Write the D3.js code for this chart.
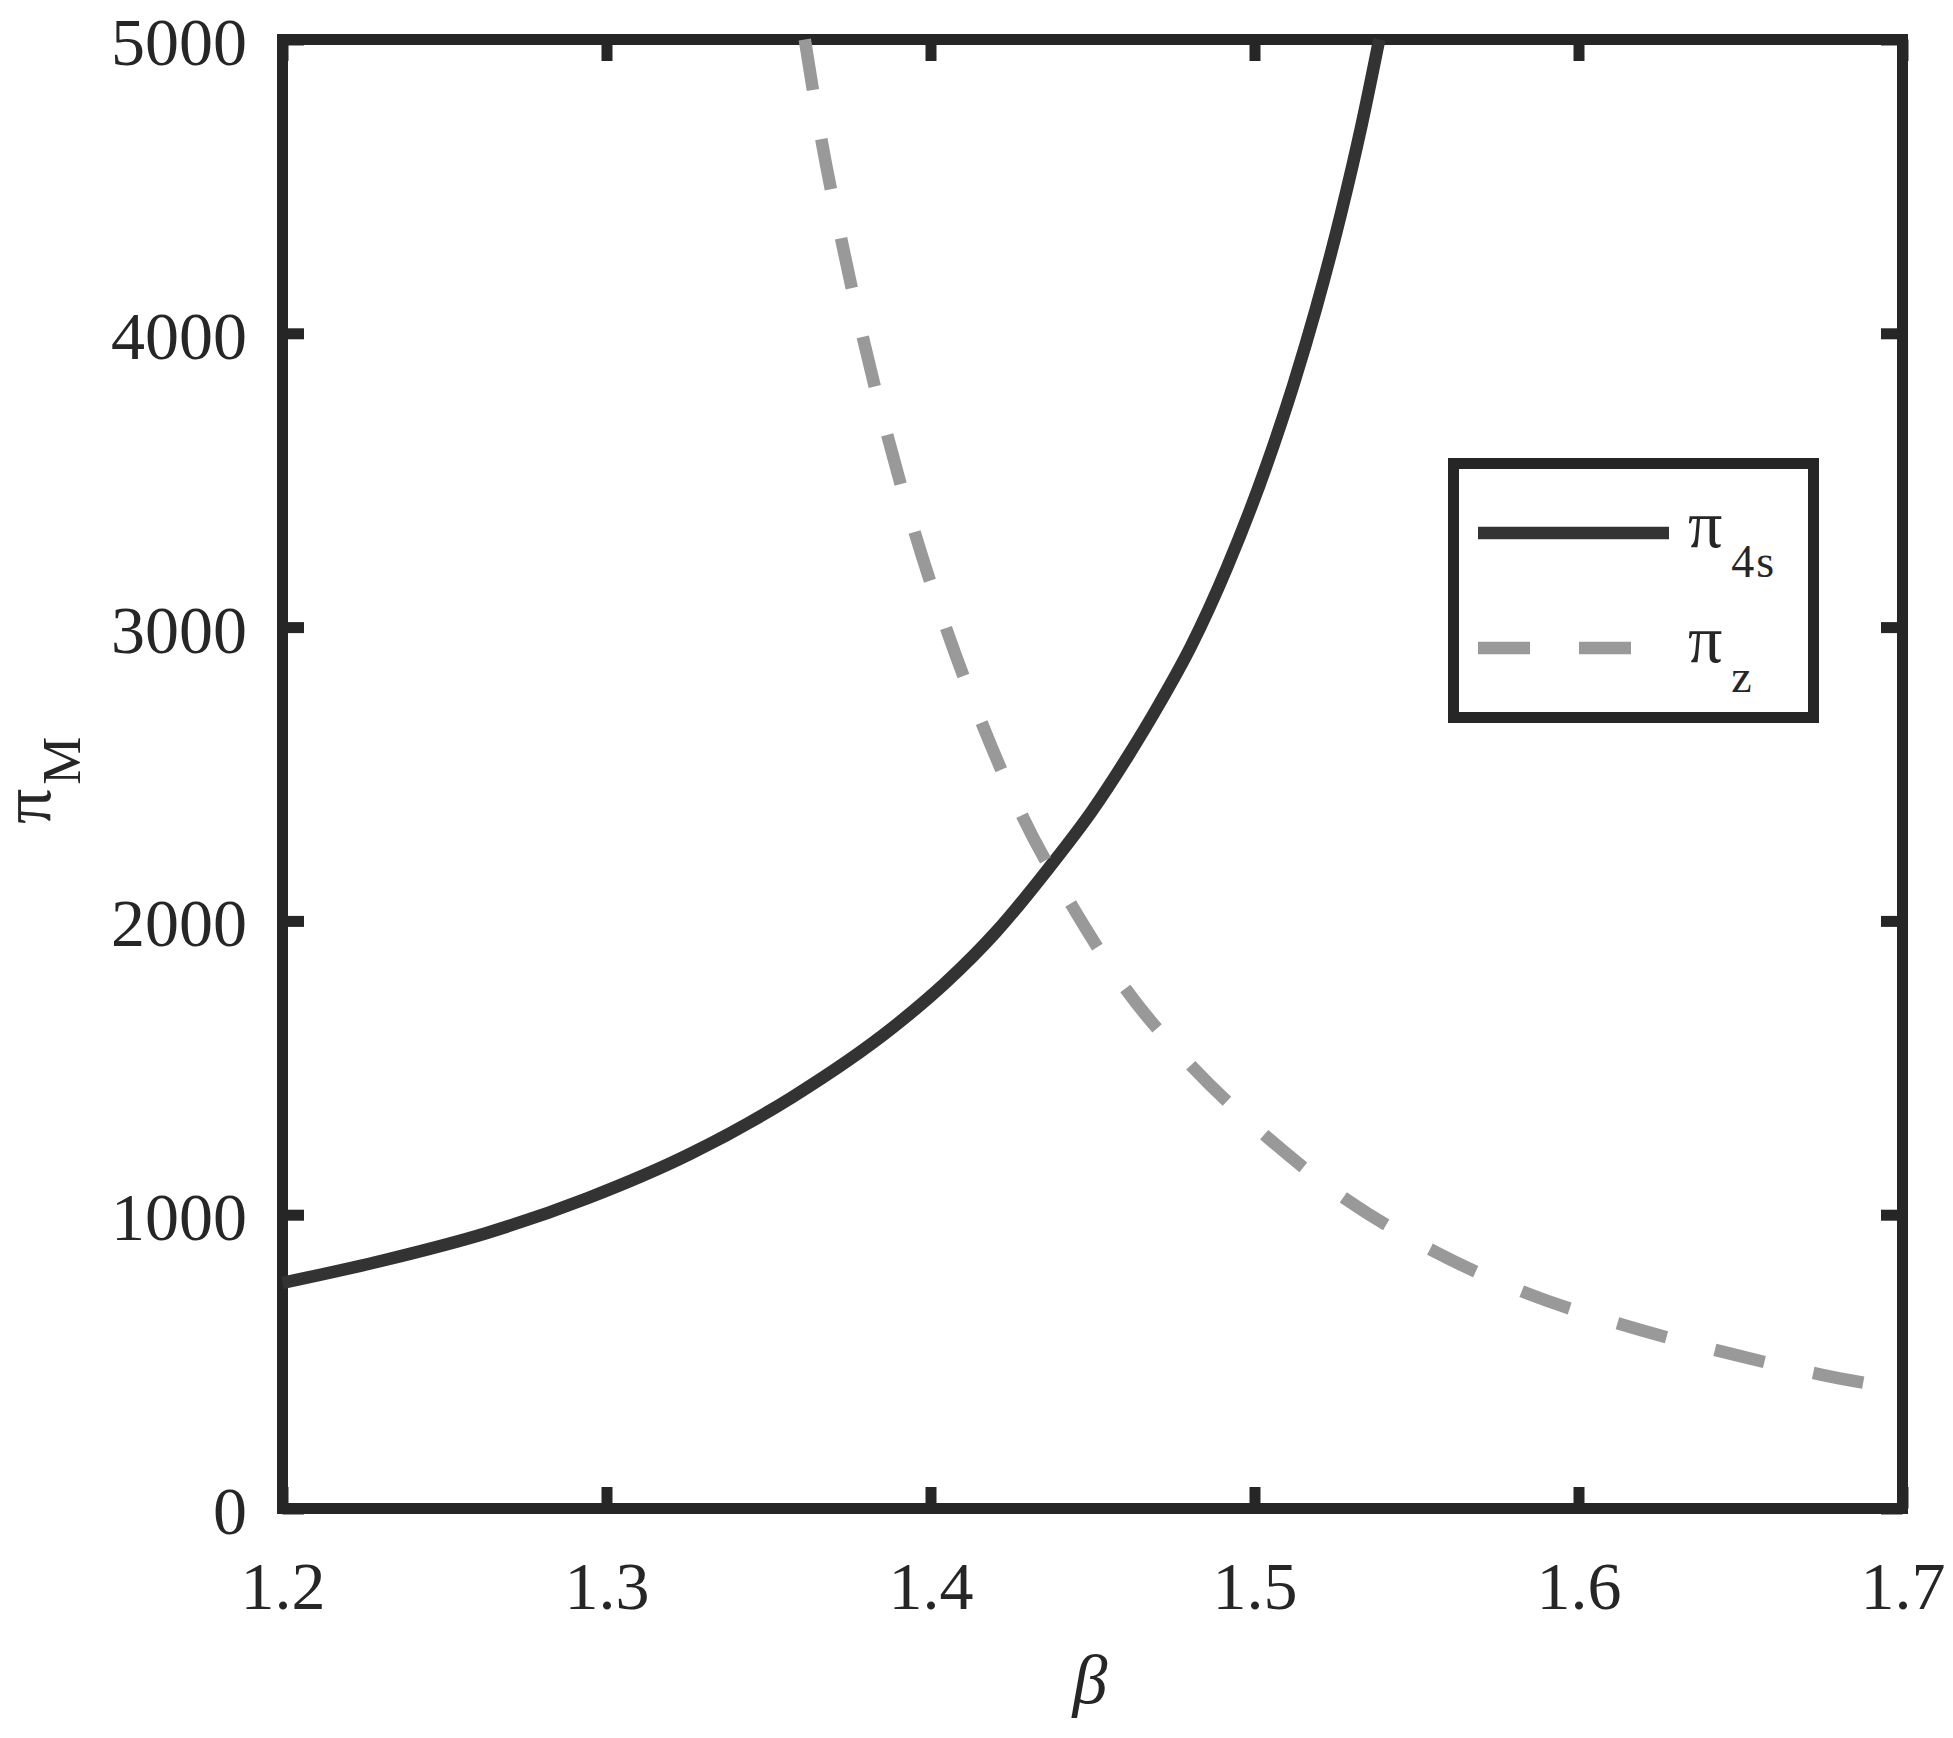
<!DOCTYPE html>
<html>
<head>
<meta charset="utf-8">
<script src="https://cdn.jsdelivr.net/npm/d3@7"></script>
<style>
  html, body { margin: 0; padding: 0; background: #ffffff; }
  svg { display: block; }
  text { font-family: "Liberation Serif", "Times New Roman", serif; fill: #262626; }
</style>
</head>
<body>
<svg id="chart" width="1953" height="1738"></svg>
<script>
// ---- data ----
const xDomain = [1.2, 1.7];
const yDomain = [0, 5000];
const xTicks = [1.2, 1.3, 1.4, 1.5, 1.6, 1.7];
const xTickLabels = ["1.2", "1.3", "1.4", "1.5", "1.6", "1.7"];
const yTicks = [0, 1000, 2000, 3000, 4000, 5000];
const yTickLabels = ["0", "1000", "2000", "3000", "4000", "5000"];

// pi_4s (solid)
const beta4s = [1.2000, 1.2313, 1.2628, 1.2943, 1.3258, 1.3573, 1.3887, 1.4045, 1.4202, 1.4365,
                1.4499, 1.4609, 1.4707, 1.4804, 1.4914, 1.5036, 1.5121, 1.5189, 1.5267, 1.5330, 1.5385];
const pi4s   = [768, 845, 937, 1057, 1207, 1400, 1640, 1788, 1962, 2180,
                2375, 2560, 2740, 2935, 3200, 3547, 3828, 4081, 4408, 4706, 5000];

// pi_z (dashed)
const betaZ = [1.3612, 1.3664, 1.3725, 1.3792, 1.3867, 1.3953, 1.4050, 1.4160, 1.4286, 1.4437,
               1.4606, 1.4810, 1.5041, 1.5290, 1.5557, 1.5847, 1.6144, 1.6446, 1.6748, 1.6900];
const piZ   = [5000, 4655, 4318, 3983, 3652, 3316, 2990, 2669, 2351, 2051,
               1763, 1501, 1262, 1047, 874, 730, 623, 533, 456, 424];

const seriesNames = ["4s", "z"];

// ---- layout ----
const svg = d3.select("#chart");
const L = 282.5, R = 1902.5, T = 39.5, B = 1508.5;
const frameColor = "#262626";
const x = d3.scaleLinear().domain(xDomain).range([L, R]);
const y = d3.scaleLinear().domain(yDomain).range([B, T]);
const tickLen = 21.5;
const fs = 68;

// axes (inward ticks on all four sides)
function styleAxis(g) {
  g.select(".domain").remove();
  g.selectAll(".tick line").attr("stroke", frameColor).attr("stroke-width", 11);
}
const gLeft = svg.append("g").attr("transform", `translate(${L},0)`)
  .call(d3.axisLeft(y).tickValues(yTicks).tickFormat((d, i) => yTickLabels[i])
        .tickSizeInner(-tickLen).tickSizeOuter(0).tickPadding(35.5));
styleAxis(gLeft);
gLeft.selectAll(".tick text").attr("font-size", fs).attr("dy", 25)
  .attr("fill", frameColor).style("font-family", '"Liberation Serif", serif');

const gRight = svg.append("g").attr("transform", `translate(${R},0)`)
  .call(d3.axisRight(y).tickValues(yTicks).tickFormat("").tickSizeInner(-tickLen).tickSizeOuter(0));
styleAxis(gRight);

const gBottom = svg.append("g").attr("transform", `translate(0,${B})`)
  .call(d3.axisBottom(x).tickValues(xTicks).tickFormat((d, i) => xTickLabels[i])
        .tickSizeInner(-tickLen).tickSizeOuter(0));
styleAxis(gBottom);
gBottom.selectAll(".tick text").attr("font-size", fs).attr("y", 100.5).attr("dy", 0)
  .attr("fill", frameColor).style("font-family", '"Liberation Serif", serif');

const gTop = svg.append("g").attr("transform", `translate(0,${T})`)
  .call(d3.axisTop(x).tickValues(xTicks).tickFormat("").tickSizeInner(-tickLen).tickSizeOuter(0));
styleAxis(gTop);

// frame
svg.append("rect").attr("x", L).attr("y", T).attr("width", R - L).attr("height", B - T)
  .attr("fill", "none").attr("stroke", frameColor).attr("stroke-width", 11);

// curves
const line = d3.line().x(d => x(d[0])).y(d => y(d[1])).curve(d3.curveMonotoneX);
svg.append("path").datum(beta4s.map((b, i) => [b, pi4s[i]]))
  .attr("d", line).attr("fill", "none").attr("stroke", "#333333").attr("stroke-width", 12.5);
svg.append("path").datum(betaZ.map((b, i) => [b, piZ[i]]))
  .attr("d", line).attr("fill", "none").attr("stroke", "#999999").attr("stroke-width", 12.5)
  .attr("stroke-dasharray", "51,50");

// axis labels
svg.append("text").attr("x", 1090).attr("y", 1703).attr("text-anchor", "middle")
  .attr("font-size", 70).attr("font-style", "italic").text("β");

const yl = svg.append("text").attr("transform", "translate(50,824) rotate(-90)")
  .attr("font-size", 70);
yl.append("tspan").text("π");
yl.append("tspan").attr("font-size", 54).attr("dy", 30).attr("dx", 4).text("M");

// legend
const lg = svg.append("g");
lg.append("rect").attr("x", 1453.5).attr("y", 463.5).attr("width", 360).attr("height", 254)
  .attr("fill", "#ffffff").attr("stroke", frameColor).attr("stroke-width", 11);
lg.append("line").attr("x1", 1478).attr("x2", 1669).attr("y1", 533).attr("y2", 533)
  .attr("stroke", "#333333").attr("stroke-width", 12.5);
lg.append("line").attr("x1", 1478).attr("x2", 1631).attr("y1", 648).attr("y2", 648)
  .attr("stroke", "#999999").attr("stroke-width", 12.5).attr("stroke-dasharray", "52,49");
const legY = [547, 662];
seriesNames.forEach((s, i) => {
  const t = lg.append("text").attr("x", 1688).attr("y", legY[i]).attr("font-size", 68);
  t.append("tspan").text("π");
  t.append("tspan").attr("font-size", 46).attr("dy", 30).attr("dx", 9)
    .attr("letter-spacing", 2).text(s);
});
</script>
</body>
</html>
